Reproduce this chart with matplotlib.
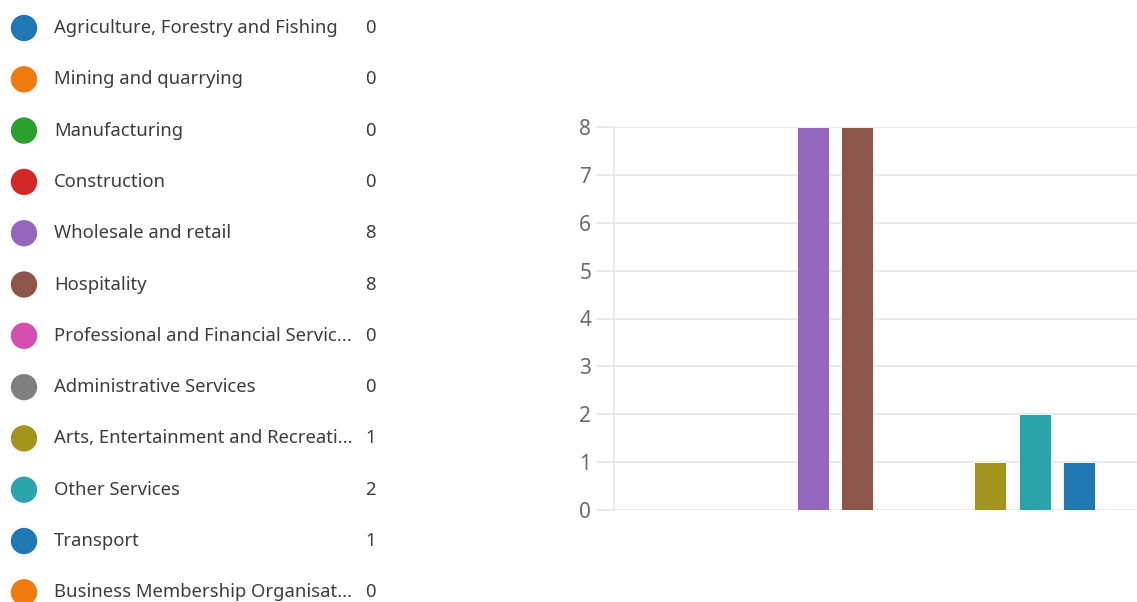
import matplotlib
matplotlib.use("Agg")
import matplotlib.pyplot as plt

categories = [
    "Agriculture, Forestry and Fishing",
    "Mining and quarrying",
    "Manufacturing",
    "Construction",
    "Wholesale and retail",
    "Hospitality",
    "Professional and Financial Servic...",
    "Administrative Services",
    "Arts, Entertainment and Recreati...",
    "Other Services",
    "Transport",
    "Business Membership Organisat...",
]
counts = [0, 0, 0, 0, 8, 8, 0, 0, 1, 2, 1, 0]
colors = [
    "#1f77b4", "#ef7b0d", "#2ca02c", "#d62728", "#9467bd", "#8c564b",
    "#d64eb0", "#7f7f7f", "#a39420", "#2aa3ad", "#1f77b4", "#ef7b0d",
]

plt.rcParams["font.family"] = ["Noto Sans", "DejaVu Sans"]

W, H = 1137, 602
fig = plt.figure(figsize=(W / 100, H / 100), dpi=100)

# legend on the left, laid out in pixel units
leg = fig.add_axes([0, 0, 1, 1])
leg.set_xlim(0, W)
leg.set_ylim(H, 0)
leg.axis("off")
row_h = 51.3
for i, (name, n, c) in enumerate(zip(categories, counts, colors)):
    y = 28 + i * row_h
    leg.scatter([24], [y], s=360, color=c, edgecolors="none")
    leg.text(54, y, name, va="center", ha="left", fontsize=13.3, color="#3d3d3d")
    leg.text(365, y, str(n), va="center", ha="left", fontsize=13.3, color="#3d3d3d")

# bar chart, right edge runs past the figure like the original
left = 613.5 / W
bottom = (H - 510) / H
ax = fig.add_axes([left, bottom, 532 / W, 383 / H])
x = range(len(categories))
ax.bar(x, counts, width=0.72, color=colors, edgecolor="white", linewidth=0.6, zorder=3)
ax.set_xlim(-0.5, len(categories) - 0.5)
ax.set_ylim(0, 8)
ax.set_yticks(range(0, 9))
ax.set_xticks([])
ax.grid(axis="y", color="#e6e6e6", linewidth=1.2, zorder=0)
for s in ["top", "right", "bottom"]:
    ax.spines[s].set_visible(False)
ax.spines["left"].set_color("#e6e6e6")
ax.spines["left"].set_linewidth(1.2)
ax.tick_params(axis="y", length=13, width=1.2, color="#e6e6e6", pad=3,
               labelsize=15, labelcolor="#6b6b6b")

fig.savefig("out.png", dpi=100)
